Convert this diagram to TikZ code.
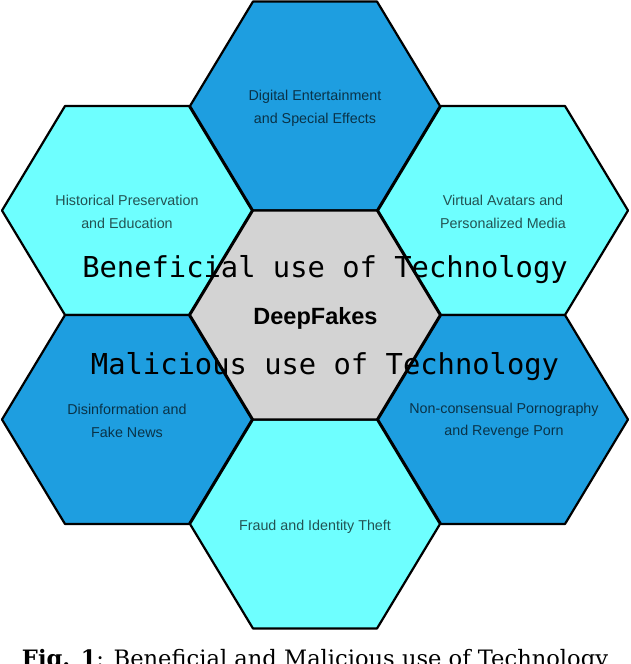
\documentclass[tikz,border=0pt]{standalone}
\usepackage{fontspec}
\setmainfont{DejaVu Serif}
\newfontfamily\labfont{Liberation Sans}
\newfontfamily\monofont{DejaVu Sans Mono}
\definecolor{hexcyan}{RGB}{110,255,255}
\definecolor{hexblue}{RGB}{30,158,224}
\definecolor{hexgray}{RGB}{211,211,211}
\tikzset{
  hexline/.style={draw=black, line width=2.2pt, line join=round},
  hexlabel/.style={font=\labfont\fontsize{14.3}{22.5}\selectfont, align=center, text=black, text opacity=0.68, inner sep=0pt},
  overlay/.style={font=\monofont\fontsize{28.8}{30}\selectfont, text=black, anchor=base, inner sep=0pt},
}
\newcommand\hexat[3]{%
  \path[hexline, fill=#3] (#1-125,#2) -- (#1-62,#2-104.5) -- (#1+62,#2-104.5) -- (#1+125,#2) -- (#1+62,#2+104.5) -- (#1-62,#2+104.5) -- cycle;}
\begin{document}
\begin{tikzpicture}[x=1pt,y=-1pt]
\useasboundingbox (0,0) rectangle (630,664);
\clip (0,0) rectangle (630,664);
\fill[white] (0,0) rectangle (630,664);
% hexagons
\hexat{315}{106}{hexblue}
\hexat{127}{210.5}{hexcyan}
\hexat{503}{210.5}{hexcyan}
\hexat{127}{419.5}{hexblue}
\hexat{503}{419.5}{hexblue}
\hexat{315}{524}{hexcyan}
\hexat{315}{315}{hexgray}
% labels
\node[hexlabel] (ent) at (315,108.5) {Digital Entertainment\\and Special Effects};
\node[hexlabel] (hist) at (127,212) {Historical Preservation\\and Education};
\node[hexlabel] (virt) at (503,212) {Virtual Avatars and\\Personalized Media};
\node[hexlabel] (dis) at (127,421) {Disinformation and\\Fake News};
\node[hexlabel] (porn) at (504,421) {Non-consensual Pornography\\and Revenge Porn};
\node[hexlabel] (fraud) at (315,526.5) {Fraud and Identity Theft};
\node[font=\labfont\bfseries\fontsize{23.5}{25}\selectfont, inner sep=0pt] (deep) at (315.5,318) {DeepFakes};
% overlay texts
\node[overlay] (ben) at (325,277) {Beneficial use of Technology};
\node[overlay] (mal) at (325,374) {Malicious use of Technology};
% caption
\node[font=\fontsize{22.6}{24}\selectfont, anchor=base, inner sep=0pt] (cap) at (315,666) {\textbf{Fig. 1}: Beneficial and Malicious use of Technology};
\end{tikzpicture}
\end{document}
